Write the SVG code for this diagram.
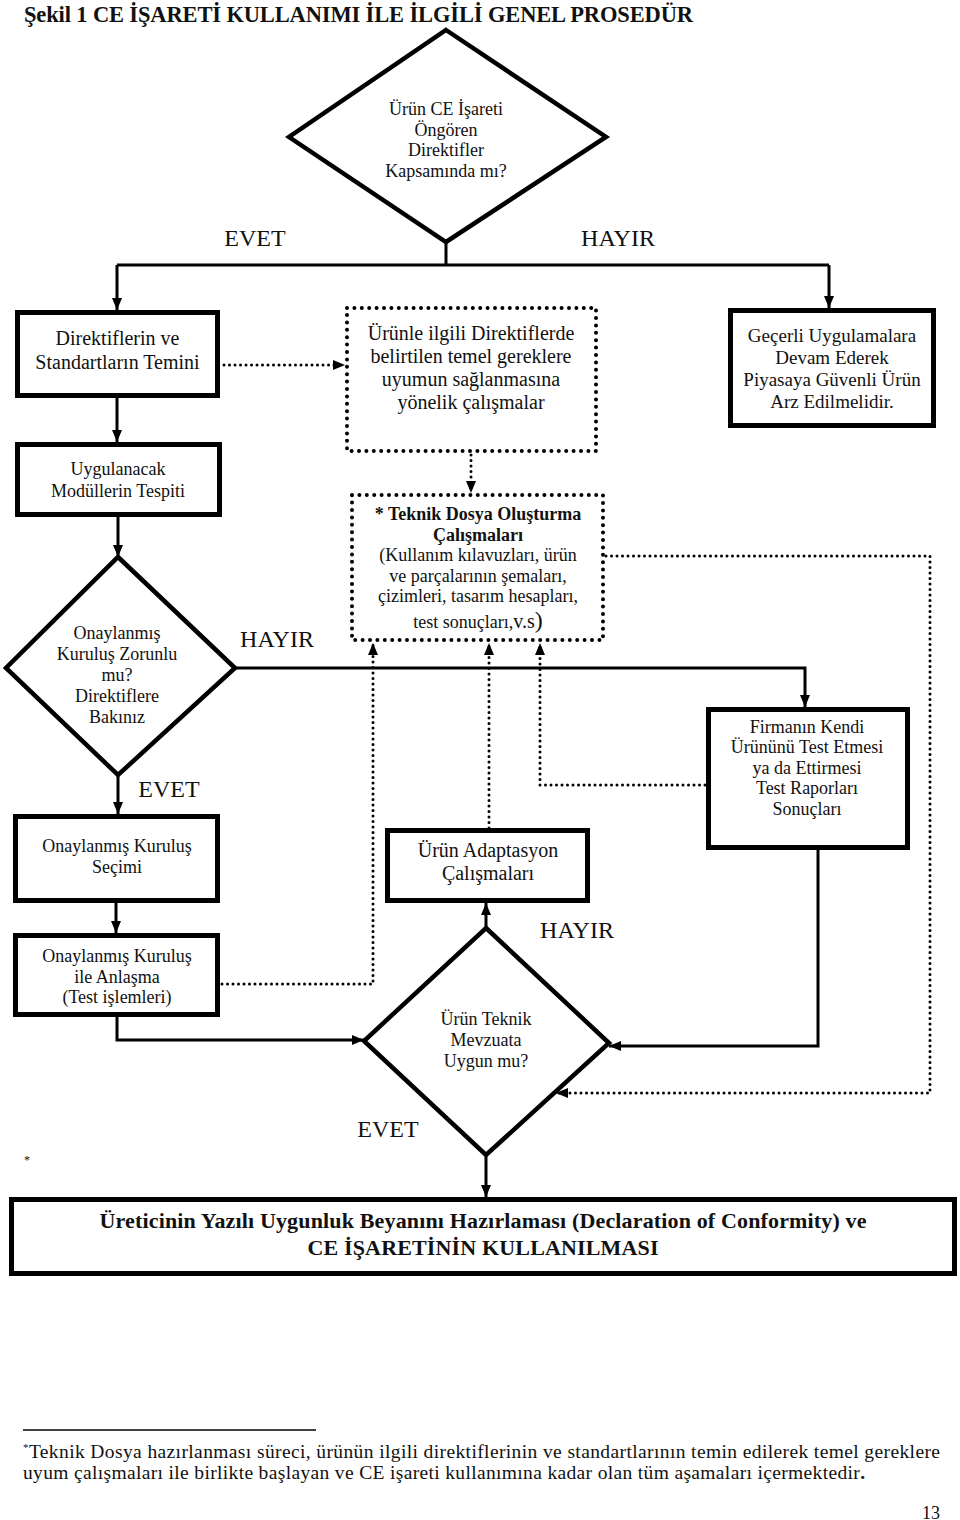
<svg xmlns="http://www.w3.org/2000/svg" width="960" height="1520" viewBox="0 0 960 1520">
<style>
text{font-family:"Liberation Serif","Times New Roman",serif;fill:#111;text-anchor:middle}
.t18{font-size:18px}.t19{font-size:19px}.t20{font-size:20px}.lbl{font-size:24px}
.b{font-weight:bold}
.box{fill:#fff;stroke:#000;stroke-width:5}
.dbox{fill:#fff;stroke:#000;stroke-width:4;stroke-dasharray:0 7.4;stroke-linecap:round}
.dia{fill:#fff;stroke:#000;stroke-width:4.5;stroke-linejoin:miter}
.ln{fill:none;stroke:#000;stroke-width:3}
.dl{fill:none;stroke:#000;stroke-width:3;stroke-dasharray:0 5.5;stroke-linecap:round}
.arr{marker-end:url(#ah)}
.start{text-anchor:start}
</style>
<defs>
<marker id="ah" markerUnits="userSpaceOnUse" markerWidth="12" markerHeight="12" viewBox="0 0 12 12" refX="12" refY="6" orient="auto">
<path d="M0,1 L12,6 L0,11 Z" fill="#000"/>
</marker>
</defs>
<text class="b start" x="24" y="22" font-size="22.5" textLength="669">Şekil 1 CE İŞARETİ KULLANIMI İLE İLGİLİ GENEL PROSEDÜR</text>

<g id="connectors">
<path class="ln" d="M446,242 V265 M117,265 H829"/>
<path class="ln arr" d="M117,265 V310"/>
<path class="ln arr" d="M829,265 V308"/>
<path class="ln arr" d="M117,398 V442"/>
<path class="dl arr" d="M224,365 H345"/>
<path class="dl arr" d="M471,455 V493"/>
<path class="ln arr" d="M118,517 V557"/>
<path class="ln arr" d="M235,668 H805 V707"/>
<path class="ln arr" d="M118,775 V814"/>
<path class="ln arr" d="M116,903 V933"/>
<path class="dl arr" d="M222,984 H373 V643"/>
<path class="ln arr" d="M117,1017 V1040 H364"/>
<path class="dl arr" d="M489,828 V643"/>
<path class="dl arr" d="M705,785 H540 V643"/>
<path class="dl arr" d="M606,556 H930 V1093 H556"/>
<path class="ln arr" d="M818,850 V1046 H609"/>
<path class="ln arr" d="M486,928 V903"/>
<path class="ln arr" d="M486,1155 V1197"/>
</g>

<g id="d_kapsam">
<polygon class="dia" points="446,30 606,137 446,242 289,137"/>
<text class="t18" x="446" y="115">Ürün CE İşareti</text>
<text class="t18" x="446" y="135.5">Öngören</text>
<text class="t18" x="446" y="156">Direktifler</text>
<text class="t18" x="446" y="176.5">Kapsamında mı?</text>
</g>
<text class="lbl" x="255" y="246">EVET</text>
<text class="lbl" x="618" y="246">HAYIR</text>

<g id="n_direktif">
<rect class="box" x="17.5" y="312.5" width="200" height="83"/>
<text class="t20" x="117.5" y="345">Direktiflerin ve</text>
<text class="t20" x="117.5" y="369">Standartların Temini</text>
</g>

<g id="n_urunle">
<rect class="dbox" x="347" y="308" width="249" height="143"/>
<text class="t20" x="471" y="340">Ürünle ilgili Direktiflerde</text>
<text class="t20" x="471" y="363">belirtilen temel gereklere</text>
<text class="t20" x="471" y="386">uyumun sağlanmasına</text>
<text class="t20" x="471" y="409">yönelik çalışmalar</text>
</g>

<g id="n_gecerli">
<rect class="box" x="730.5" y="310.5" width="203" height="115"/>
<text class="t19" x="832" y="342">Geçerli Uygulamalara</text>
<text class="t19" x="832" y="364">Devam Ederek</text>
<text class="t19" x="832" y="386">Piyasaya Güvenli Ürün</text>
<text class="t19" x="832" y="408">Arz Edilmelidir.</text>
</g>

<g id="n_uygulanacak">
<rect class="box" x="17.5" y="444.5" width="202" height="70"/>
<text class="t18" x="118" y="475">Uygulanacak</text>
<text class="t18" x="118" y="497">Modüllerin Tespiti</text>
</g>

<g id="d_zorunlu">
<polygon class="dia" points="118,557 235,668 118,775 6,668"/>
<text class="t18" x="117" y="639">Onaylanmış</text>
<text class="t18" x="117" y="660">Kuruluş Zorunlu</text>
<text class="t18" x="117" y="681">mu?</text>
<text class="t18" x="117" y="702">Direktiflere</text>
<text class="t18" x="117" y="723">Bakınız</text>
</g>
<text class="lbl" x="277" y="647">HAYIR</text>
<text class="lbl" x="169" y="797">EVET</text>

<g id="n_teknik">
<rect class="dbox" x="352" y="495" width="251" height="145"/>
<text class="t18 b" x="478" y="520">* Teknik Dosya Oluşturma</text>
<text class="t18 b" x="478" y="541">Çalışmaları</text>
<text class="t18" x="478" y="561">(Kullanım kılavuzları, ürün</text>
<text class="t18" x="478" y="582">ve parçalarının şemaları,</text>
<text class="t18" x="478" y="602">çizimleri, tasarım hesapları,</text>
<text class="t18" x="478" y="628">test sonuçları,<tspan font-size="20">v.s</tspan><tspan font-size="24">)</tspan></text>
</g>

<g id="n_firmanin">
<rect class="box" x="708.5" y="709.5" width="199" height="138"/>
<text class="t18" x="807" y="733">Firmanın Kendi</text>
<text class="t18" x="807" y="753">Ürününü Test Etmesi</text>
<text class="t18" x="807" y="774">ya da Ettirmesi</text>
<text class="t18" x="807" y="794">Test Raporları</text>
<text class="t18" x="807" y="815">Sonuçları</text>
</g>

<g id="n_secimi">
<rect class="box" x="15.5" y="816.5" width="202" height="84"/>
<text class="t18" x="117" y="852">Onaylanmış Kuruluş</text>
<text class="t18" x="117" y="873">Seçimi</text>
</g>

<g id="n_anlasma">
<rect class="box" x="15.5" y="935.5" width="202" height="79"/>
<text class="t18" x="117" y="962">Onaylanmış Kuruluş</text>
<text class="t18" x="117" y="983">ile Anlaşma</text>
<text class="t18" x="117" y="1003">(Test işlemleri)</text>
</g>

<g id="n_adaptasyon">
<rect class="box" x="387.5" y="830.5" width="200" height="70"/>
<text class="t20" x="488" y="857">Ürün Adaptasyon</text>
<text class="t20" x="488" y="880">Çalışmaları</text>
</g>

<g id="d_mevzuat">
<polygon class="dia" points="486,928 609,1043 486,1155 364,1041"/>
<text class="t18" x="486" y="1025">Ürün Teknik</text>
<text class="t18" x="486" y="1046">Mevzuata</text>
<text class="t18" x="486" y="1067">Uygun mu?</text>
</g>
<text class="lbl" x="577" y="938">HAYIR</text>
<text class="lbl" x="388" y="1137">EVET</text>

<text x="27" y="1164" font-size="12">*</text>

<g id="n_final">
<rect class="box" x="11.5" y="1199.5" width="943" height="74"/>
<text class="b" x="483" y="1228" font-size="22" textLength="767">Üreticinin Yazılı Uygunluk Beyanını Hazırlaması (Declaration of Conformity) ve</text>
<text class="b" x="483" y="1255" font-size="22" textLength="351">CE İŞARETİNİN KULLANILMASI</text>
</g>

<line x1="23" y1="1430" x2="316" y2="1430" stroke="#000" stroke-width="1.5"/>
<text class="start" x="23" y="1458" font-size="19.5" textLength="917"><tspan font-size="11" dy="-7">*</tspan><tspan dy="7">Teknik Dosya hazırlanması süreci, ürünün ilgili direktiflerinin ve standartlarının temin edilerek temel gereklere</tspan></text>
<text class="start" x="23" y="1479" font-size="19.5" textLength="842">uyum çalışmaları ile birlikte başlayan ve CE işareti kullanımına kadar olan tüm aşamaları içermektedir<tspan font-weight="bold">.</tspan></text>
<text x="931" y="1519" font-size="18">13</text>
</svg>
